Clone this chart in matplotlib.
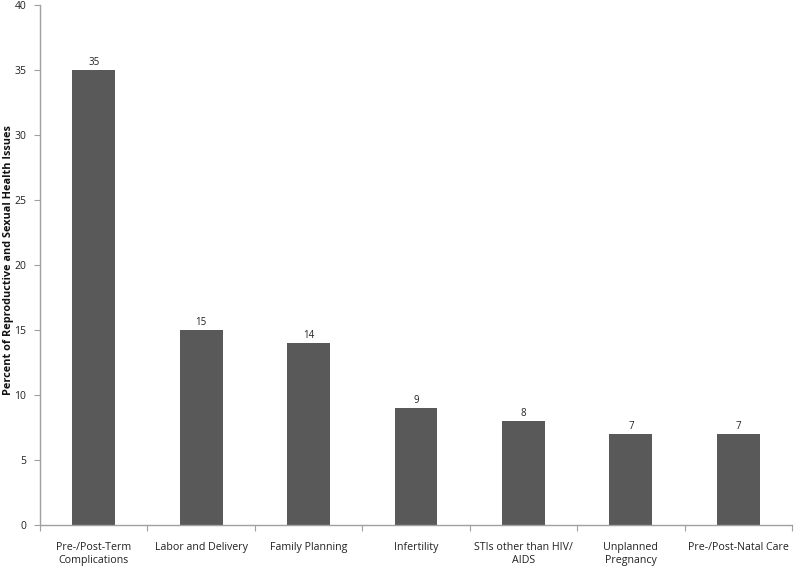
import numpy as np
import matplotlib
matplotlib.use("Agg")
import matplotlib.pyplot as plt

categories = ["Pre-/Post-Term\nComplications", "Labor and Delivery", "Family Planning",
              "Infertility", "STIs other than HIV/\nAIDS", "Unplanned\nPregnancy",
              "Pre-/Post-Natal Care"]
values = [35, 15, 14, 9, 8, 7, 7]
yticks = [0, 5, 10, 15, 20, 25, 30, 35, 40]

plt.rcParams['font.family'] = ['Open Sans', 'DejaVu Sans']

fig = plt.figure(figsize=(8, 5.67), dpi=100)
ax = fig.add_axes([0.05, 0.074, 0.94, 0.917])

x = np.arange(len(categories))
bars = ax.bar(x, values, width=0.4, color="#595959", zorder=2)
for xi, v in zip(x, values):
    ax.text(xi, v + 0.15, str(v), ha="center", va="bottom", fontsize=7, color="#222222")

ax.set_xlim(-0.5, len(categories) - 0.5)
ax.set_ylim(0, 40)
ax.set_yticks(yticks)
ax.set_yticklabels([str(t) for t in yticks], fontsize=7.5, color="#222222")

# category labels between boundary ticks
ax.set_xticks(np.arange(len(categories) + 1) - 0.5)
ax.set_xticklabels([])
ax.set_xticks(x, minor=True)
ax.set_xticklabels(categories, minor=True, fontsize=7.7, color="#222222", linespacing=1.3)
ax.tick_params(axis="x", which="minor", length=0, pad=12)
ax.tick_params(axis="x", which="major", length=4, direction="out", color="#a0a0a0")
ax.tick_params(axis="y", length=4, direction="out", color="#a0a0a0", pad=6)

for s in ["top", "right"]:
    ax.spines[s].set_visible(False)
for s in ["left", "bottom"]:
    ax.spines[s].set_color("#a0a0a0")
    ax.spines[s].set_linewidth(1.0)

fig.text(0.011, 1 - 260 / 567, "Percent of Reproductive and Sexual Health Issues",
         rotation=90, ha="center", va="center", fontsize=7.8,
         fontweight="bold", color="#111111")

fig.savefig("out.png", dpi=100)
